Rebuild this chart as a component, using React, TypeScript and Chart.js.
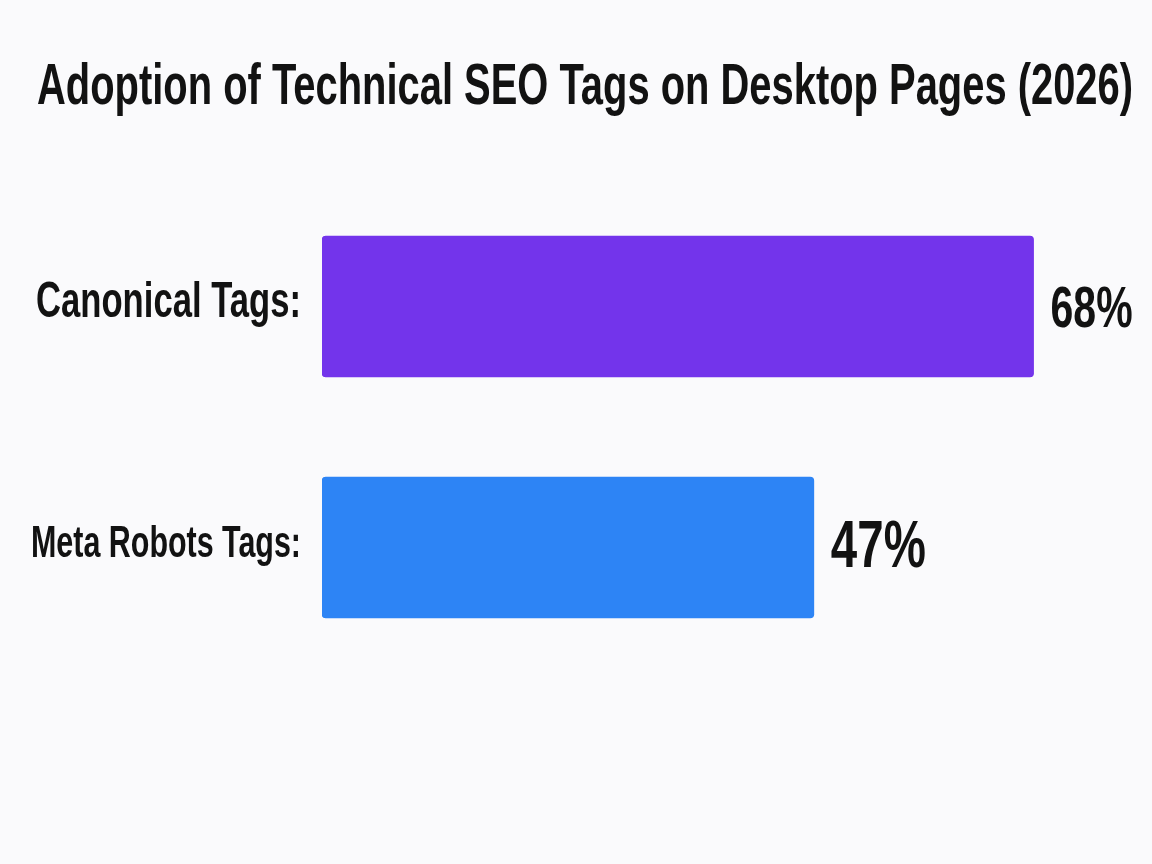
import React, { useEffect, useRef } from "react";
import { Chart, registerables } from "chart.js";

Chart.register(...registerables);

const categories = ["Canonical Tags:", "Meta Robots Tags:"];
const adoption = [68, 47];
const barColors = ["#7334EB", "#2D84F5"];
const titleText = "Adoption of Technical SEO Tags on Desktop Pages (2026)";

const FONT = "'Liberation Sans', Arial, sans-serif";
const BG = "#FAFAFC";
const INK = "#121212";

// the reference uses a condensed face; squeeze via fillText maxWidth
const labelStyle = [
  { size: 50, width: 265 },
  { size: 45, width: 270 },
];
const valueStyle = [
  { size: 57, width: 82 },
  { size: 66, width: 95 },
];

const categoryLabels = {
  id: "categoryLabels",
  afterDraw(chart: any) {
    const { ctx, chartArea } = chart;
    const yScale = chart.scales.y;
    ctx.save();
    ctx.fillStyle = INK;
    ctx.textAlign = "right";
    ctx.textBaseline = "alphabetic";
    chart.data.labels.forEach((label: string, i: number) => {
      const st = labelStyle[i];
      const y = yScale.getPixelForValue(i);
      ctx.font = `bold ${st.size}px ${FONT}`;
      ctx.fillText(label, chartArea.left - 21, y + st.size * 0.358 - 7, st.width);
    });
    ctx.restore();
  },
};

const valueLabels = {
  id: "valueLabels",
  afterDatasetsDraw(chart: any) {
    const { ctx } = chart;
    const meta = chart.getDatasetMeta(0);
    ctx.save();
    ctx.fillStyle = INK;
    ctx.textAlign = "left";
    ctx.textBaseline = "alphabetic";
    meta.data.forEach((bar: any, i: number) => {
      const st = valueStyle[i];
      ctx.font = `bold ${st.size}px ${FONT}`;
      ctx.fillText(`${adoption[i]}%`, bar.x + 17, bar.y + st.size * 0.358 - (i === 1 ? 4 : 0), st.width);
    });
    ctx.restore();
  },
};

const background = {
  id: "background",
  beforeDraw(chart: any) {
    const { ctx, width, height } = chart;
    ctx.save();
    ctx.fillStyle = BG;
    ctx.fillRect(0, 0, width, height);
    ctx.restore();
  },
};

export default function App() {
  const canvasRef = useRef<HTMLCanvasElement>(null);
  const chartRef = useRef<Chart | null>(null);

  useEffect(() => {
    document.body.style.margin = "0";
    document.body.style.background = BG;
    if (!canvasRef.current) return;
    const ctx = canvasRef.current.getContext("2d");
    if (!ctx) return;
    if (chartRef.current) chartRef.current.destroy();

    chartRef.current = new Chart(ctx, {
      type: "bar",
      data: {
        labels: categories,
        datasets: [
          {
            data: adoption,
            backgroundColor: barColors,
            borderRadius: 4,
            borderSkipped: false,
            barThickness: 141,
          },
        ],
      },
      options: {
        indexAxis: "y",
        animation: false,
        responsive: true,
        maintainAspectRatio: false,
        layout: { padding: { left: 37, right: 19, top: 0, bottom: 196 } },
        plugins: {
          legend: { display: false },
          tooltip: { enabled: false },
          title: {
            display: true,
            text: titleText,
            color: INK,
            font: { family: FONT, size: 57, weight: "bold", lineHeight: 1.2 },
            padding: { top: 54, bottom: 63.6 },
          },
        },
        scales: {
          x: { display: false, min: 0, max: 77.5 },
          y: {
            grid: { display: false },
            border: { display: false },
            ticks: { display: false },
            afterFit: (scale: any) => {
              scale.width = 285;
            },
          },
        },
      },
      plugins: [background, valueLabels, categoryLabels],
    });

    return () => {
      if (chartRef.current) chartRef.current.destroy();
    };
  }, []);

  return (
    <div style={{ position: "relative", width: 1152, height: 864 }}>
      <canvas ref={canvasRef} />
    </div>
  );
}
